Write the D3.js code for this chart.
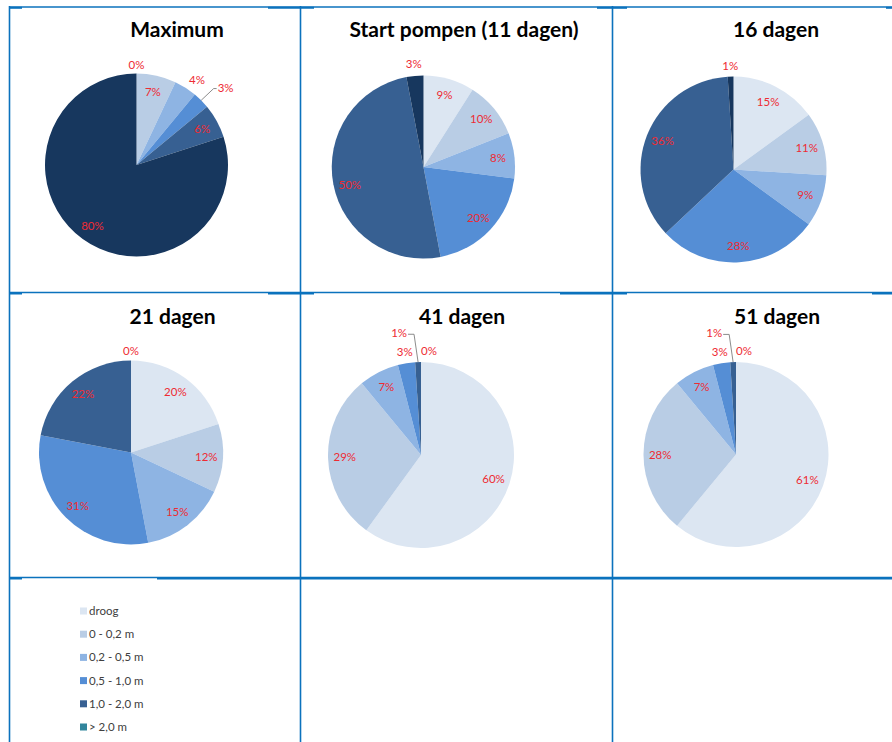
<!DOCTYPE html>
<html>
<head>
<meta charset="utf-8">
<script src="https://cdn.jsdelivr.net/npm/d3@7"></script>
<style>
  html, body { margin: 0; padding: 0; background: #ffffff; }
  svg { display: block; }
</style>
</head>
<body>
<svg id="chart" width="892" height="742"></svg>
<script>
// Water depth classes (legend order = slice order, clockwise from 12 o'clock)
const categories = ["droog", "0 - 0,2 m", "0,2 - 0,5 m", "0,5 - 1,0 m", "1,0 - 2,0 m", "> 2,0 m"];
const sliceColors = ["#dce6f2", "#b9cde5", "#8eb4e3", "#558ed5", "#376092", "#17375e"];
const legendColors = ["#dce6f2", "#b9cde5", "#8eb4e3", "#558ed5", "#376092", "#31859c"];

const panelTitles = ["Maximum", "Start pompen (11 dagen)", "16 dagen", "21 dagen", "41 dagen", "51 dagen"];

// Share of area per depth class (%)
const valMaximum = [0, 7, 4, 3, 6, 80];
const valStart   = [9, 10, 8, 20, 50, 3];
const val16      = [15, 11, 9, 28, 36, 1];
const val21      = [20, 12, 15, 31, 22, 0];
const val41      = [60, 29, 7, 3, 1, 0];
const val51      = [61, 28, 7, 3, 1, 0];

const seriesValues = [valMaximum, valStart, val16, val21, val41, val51];

// Layout: pie centre, radius, title position and label placement per panel
// label modes: "in" (inside), "out" (just outside), "lead" (outside with leader line)
const layout = [
  { cx: 136.5, cy: 165,   r: 91.5, tx: 177, ty: 37,
    labels: [{m: "out", f: 1.09}, {m: "in"}, {m: "out", f: 1.14, da: 3}, {m: "lead", f: 1.29, da: 4, side: "left"}, {m: "in"}, {m: "in"}] },
  { cx: 423.5, cy: 167,   r: 91.5, tx: 464, ty: 37,
    labels: [{m: "in"}, {m: "in"}, {m: "in"}, {m: "in"}, {m: "in", dy: 4}, {m: "out", f: 1.13}] },
  { cx: 733.5, cy: 169.5, r: 93,   tx: 776, ty: 37,
    labels: [{m: "in"}, {m: "in"}, {m: "in"}, {m: "in"}, {m: "in"}, {m: "out", f: 1.11}] },
  { cx: 131,   cy: 452.5, r: 92,   tx: 172.5, ty: 324,
    labels: [{m: "in"}, {m: "in"}, {m: "in"}, {m: "in"}, {m: "in"}, {m: "out", f: 1.1}] },
  { cx: 421,   cy: 455,   r: 93,   tx: 462, ty: 324,
    labels: [{m: "in"}, {m: "in"}, {m: "in"}, {m: "out", f: 1.12}, {m: "lead", f: 1.33, da: -8.4, side: "right"}, {m: "out", f: 1.12, dx: 8}] },
  { cx: 736,   cy: 454.5, r: 92.5, tx: 777, ty: 324,
    labels: [{m: "in"}, {m: "in"}, {m: "in"}, {m: "out", f: 1.12}, {m: "lead", f: 1.33, da: -8.4, side: "right"}, {m: "out", f: 1.12, dx: 8}] }
];

const svg = d3.select("#chart");
const gridColor = "#0b72bd";
const labelColor = "#ee2b33";
const fontFamily = "Lato, 'Open Sans', sans-serif";

// Table grid
const gridV = [9.5, 300.5, 612.5];
const gridH = [7, 292.5, 577.5];
const grid = svg.append("g").attr("class", "grid");
gridV.forEach(x => grid.append("line")
  .attr("x1", x).attr("x2", x).attr("y1", 6).attr("y2", 742)
  .attr("stroke", gridColor).attr("stroke-width", 1.6));
gridH.forEach(y => grid.append("line")
  .attr("x1", 9).attr("x2", 892).attr("y1", y).attr("y2", y)
  .attr("stroke", gridColor).attr("stroke-width", 1.4));
// heavier cell-corner segments
const heavy = [
  [9, 22, 7.8], [268, 314, 7.8], [597, 627, 7.8], [886, 892, 7.8],
  [9, 22, 293.5], [268, 314, 293.5], [560, 627, 293.5], [872, 892, 293.5],
  [9, 22, 578.5], [157, 892, 578.5]
];
heavy.forEach(([x1, x2, y]) => grid.append("line")
  .attr("x1", x1).attr("x2", x2).attr("y1", y).attr("y2", y)
  .attr("stroke", gridColor).attr("stroke-width", 2));

const pie = d3.pie().sort(null).value(d => d);
const toRad = Math.PI / 180;

seriesValues.forEach((vals, i) => {
  const L = layout[i];
  const g = svg.append("g").attr("transform", `translate(${L.cx},${L.cy})`);
  const arc = d3.arc().innerRadius(0).outerRadius(L.r);
  const arcs = pie(vals);

  g.selectAll("path.slice").data(arcs).join("path")
    .attr("class", "slice")
    .attr("d", arc)
    .attr("fill", (d, j) => sliceColors[j]);

  // Percentage labels
  arcs.forEach((d, j) => {
    const cfg = L.labels[j];
    const mid = (d.startAngle + d.endAngle) / 2;
    const f = cfg.m === "in" ? 0.82 : cfg.f;
    const a = mid + (cfg.da || 0) * toRad;
    const x = Math.sin(a) * L.r * f + (cfg.dx || 0);
    const y = -Math.cos(a) * L.r * f + (cfg.dy || 0);
    const t = g.append("text")
      .attr("x", x).attr("y", y)
      .attr("dy", "0.35em")
      .attr("text-anchor", "middle")
      .attr("font-family", fontFamily)
      .attr("font-size", 11.5)
      .attr("fill", labelColor)
      .text(vals[j] + "%");
    if (cfg.m === "lead") {
      const bb = t.node().getBBox();
      const ex = Math.sin(mid) * L.r, ey = -Math.cos(mid) * L.r;
      let sx, hx;
      if (cfg.side === "right") { sx = bb.x + bb.width + 1; hx = sx + 6; }
      else { sx = bb.x - 1; hx = sx - 3; }
      const sy = y + 1;
      g.append("path")
        .attr("d", `M${sx},${sy}H${hx}L${ex},${ey}`)
        .attr("fill", "none")
        .attr("stroke", "#7f7f7f")
        .attr("stroke-width", 0.9);
    }
  });

  svg.append("text")
    .attr("x", L.tx).attr("y", L.ty)
    .attr("text-anchor", "middle")
    .attr("font-family", fontFamily)
    .attr("font-weight", "bold")
    .attr("font-size", 21)
    .attr("fill", "#000000")
    .text(panelTitles[i]);
});

// Legend
const legend = svg.append("g").attr("transform", "translate(80,611)");
const ly = d3.scalePoint().domain(categories).range([0, 116]);
categories.forEach((c, j) => {
  legend.append("rect")
    .attr("x", 0).attr("y", ly(c) - 3.5)
    .attr("width", 7).attr("height", 7)
    .attr("fill", legendColors[j]);
  legend.append("text")
    .attr("x", 9).attr("y", ly(c))
    .attr("dy", "0.35em")
    .attr("font-family", fontFamily)
    .attr("font-size", 11.5)
    .attr("fill", "#404040")
    .text(c);
});
</script>
</body>
</html>
